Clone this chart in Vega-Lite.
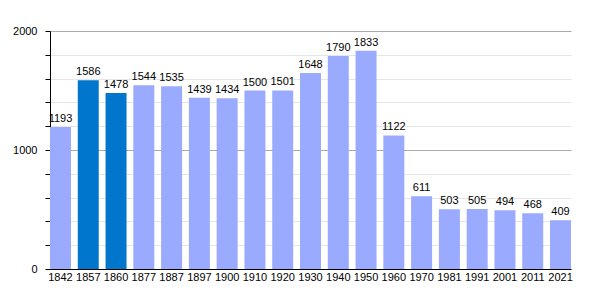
{
  "$schema": "https://vega.github.io/schema/vega-lite/v6.json",
  "width": 521,
  "height": 238,
  "autosize": "none",
  "padding": {"left": 50, "top": 31, "right": 29, "bottom": 31},
  "background": "white",
  "config": {
    "view": {"stroke": null},
    "font": "Liberation Sans"
  },
  "data": {
    "values": [
      {"year": "1842", "pop": 1193},
      {"year": "1857", "pop": 1586},
      {"year": "1860", "pop": 1478},
      {"year": "1877", "pop": 1544},
      {"year": "1887", "pop": 1535},
      {"year": "1897", "pop": 1439},
      {"year": "1900", "pop": 1434},
      {"year": "1910", "pop": 1500},
      {"year": "1920", "pop": 1501},
      {"year": "1930", "pop": 1648},
      {"year": "1940", "pop": 1790},
      {"year": "1950", "pop": 1833},
      {"year": "1960", "pop": 1122},
      {"year": "1970", "pop": 611},
      {"year": "1981", "pop": 503},
      {"year": "1991", "pop": 505},
      {"year": "2001", "pop": 494},
      {"year": "2011", "pop": 468},
      {"year": "2021", "pop": 409}
    ]
  },
  "encoding": {
    "x": {
      "field": "year",
      "type": "nominal",
      "sort": null,
      "scale": {"paddingInner": 0.245, "paddingOuter": 0},
      "axis": {
        "title": null,
        "labelAngle": 0,
        "ticks": false,
        "labelPadding": 2,
        "labelFontSize": 11,
        "labelColor": "#000",
        "domainColor": "#000",
        "domainWidth": 1,
        "grid": false
      }
    },
    "y": {
      "field": "pop",
      "type": "quantitative",
      "scale": {"domain": [0, 2000], "nice": false},
      "axis": {
        "title": null,
        "values": [0, 200, 400, 600, 800, 1000, 1200, 1400, 1600, 1800, 2000],
        "labelExpr": "datum.value % 1000 === 0 ? datum.value : ''",
        "labelFontSize": 11,
        "labelColor": "#000",
        "tickSize": 5,
        "tickColor": "#000",
        "labelPadding": 8,
        "domainColor": "#000",
        "grid": true,
        "gridColor": {"condition": {"test": "datum.value % 1000 === 0", "value": "#aaaaaa"}, "value": "#e6e6e6"},
        "labelBound": false,
        "labelFlush": false
      }
    }
  },
  "layer": [
    {
      "mark": {"type": "bar"},
      "encoding": {
        "color": {
          "condition": {"test": "datum.year === '1857' || datum.year === '1860'", "value": "#0077cc"},
          "value": "#99aaff"
        }
      }
    },
    {
      "mark": {"type": "text", "baseline": "bottom", "dy": -3, "fontSize": 11, "color": "#000"},
      "encoding": {
        "text": {"field": "pop", "type": "quantitative", "format": "d"}
      }
    }
  ]
}
